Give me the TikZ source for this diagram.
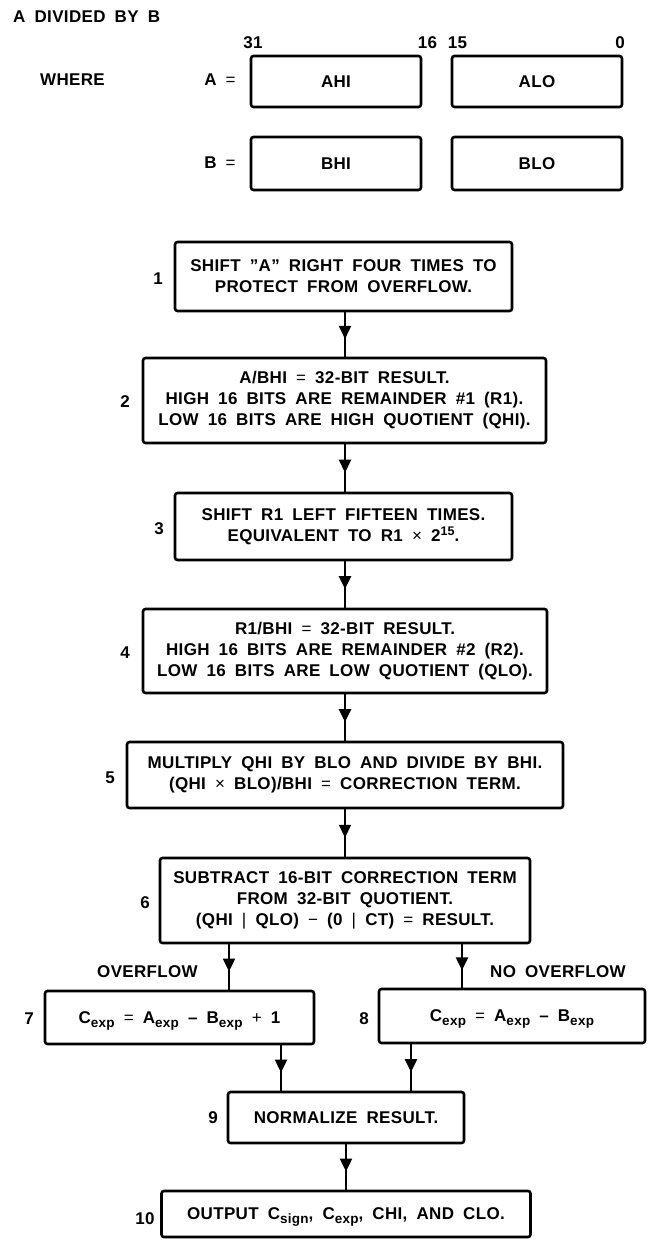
\documentclass[tikz,border=0pt]{standalone}
\usepackage{fontspec}
\setmainfont{Liberation Sans}[WordSpace=1.8, LetterSpace=2]
\usetikzlibrary{arrows.meta,decorations.markings}
\newcommand\myeq{{\mdseries =}}
\newcommand\mytimes{{\mdseries ×}}
\newcommand\mybar{{\mdseries |}}
\newcommand\mysub[1]{\raisebox{-4pt}{\fontsize{13.5}{13.5}\selectfont #1}}
\newcommand\mysup[1]{\raisebox{5.5pt}{\fontsize{12.5}{12.5}\selectfont #1}}
\tikzset{
  every node/.style={font=\bfseries\fontsize{17}{21}\selectfont, inner sep=0pt},
  box/.style={draw, line width=2.6pt, rounded corners=2.5pt, align=center},
  subbox/.style={box, text depth=0pt},
  flow/.style={line width=2.2pt, postaction={decorate},
    decoration={markings, mark=at position 0.6 with {\arrow{Triangle[width=12pt,length=13pt]}}}}
}
\begin{document}
\begin{tikzpicture}[x=1pt,y=-1pt]
\useasboundingbox (0,0) rectangle (648,1240);
% header
\node[anchor=west] (title) at (13,17) {A DIVIDED BY B};
\node[anchor=west] (where) at (40,80) {WHERE};
\node (aeq) at (220,80) {A \myeq};
\node (beq) at (220,163) {B \myeq};
\node (n31) at (253,43) {31};
\node (n16) at (427.5,43) {16};
\node (n15) at (457.5,43) {15};
\node (n0) at (620,43) {0};
\node[box, minimum width=170pt, minimum height=51pt] (ahi) at (336,81.5) {AHI};
\node[box, minimum width=170pt, minimum height=51pt] (alo) at (537,81.5) {ALO};
\node[box, minimum width=170pt, minimum height=53pt] (bhi) at (336,163.5) {BHI};
\node[box, minimum width=170pt, minimum height=53pt] (blo) at (537,163.5) {BLO};
% flow boxes
\node[box, minimum width=337pt, minimum height=69pt] (b1) at (343.5,276.5)
  {SHIFT ''A'' RIGHT FOUR TIMES TO\\PROTECT FROM OVERFLOW.};
\node[box, minimum width=403pt, minimum height=85pt] (b2) at (344.5,400.5)
  {A/BHI \myeq{} 32-BIT RESULT.\\HIGH 16 BITS ARE REMAINDER \#1 (R1).\\LOW 16 BITS ARE HIGH QUOTIENT (QHI).};
\node[box, minimum width=337pt, minimum height=67pt] (b3) at (343.5,526.5)
  {SHIFT R1 LEFT FIFTEEN TIMES.\\EQUIVALENT TO R1 \mytimes{} 2\mysup{15}.};
\node[box, minimum width=404pt, minimum height=84pt] (b4) at (345,651)
  {R1/BHI \myeq{} 32-BIT RESULT.\\HIGH 16 BITS ARE REMAINDER \#2 (R2).\\LOW 16 BITS ARE LOW QUOTIENT (QLO).};
\node[box, minimum width=436pt, minimum height=66pt] (b5) at (345,775)
  {MULTIPLY QHI BY BLO AND DIVIDE BY BHI.\\(QHI \mytimes{} BLO)/BHI \myeq{} CORRECTION TERM.};
\node[box, minimum width=370pt, minimum height=85pt] (b6) at (345,900.5)
  {SUBTRACT 16-BIT CORRECTION TERM\\FROM 32-BIT QUOTIENT.\\(QHI \mybar{} QLO) {\mdseries −} (0 \mybar{} CT) \myeq{} RESULT.};
\node[subbox, minimum width=269pt, minimum height=53pt] (b7) at (179.5,1017.5)
  {C\mysub{exp} \myeq{} A\mysub{exp} – B\mysub{exp} {\mdseries +} 1};
\node[subbox, minimum width=266pt, minimum height=54pt] (b8) at (512,1016)
  {C\mysub{exp} \myeq{} A\mysub{exp} – B\mysub{exp}};
\node[box, minimum width=236pt, minimum height=51pt] (b9) at (346,1117.5)
  {NORMALIZE RESULT.};
\node[subbox, minimum width=369pt, minimum height=46pt] (b10) at (346,1214)
  {OUTPUT C\mysub{sign}, C\mysub{exp}, CHI, AND CLO.};
% step numbers
\node (l1) at (158,279) {1};
\node (l2) at (125,402) {2};
\node (l3) at (159,529) {3};
\node (l4) at (125,653) {4};
\node (l5) at (110,778) {5};
\node (l6) at (145,903) {6};
\node (l7) at (29,1019) {7};
\node (l8) at (364,1019) {8};
\node (l9) at (213,1118) {9};
\node (l10) at (145,1219) {10};
\node (ovf) at (147.5,972) {OVERFLOW};
\node (novf) at (558,972) {NO OVERFLOW};
% connector columns
\coordinate (cm) at (345,0);
\coordinate (c9) at (346,0);
\coordinate (c7) at (229,0);
\coordinate (c8) at (462,0);
\coordinate (d7) at (281,0);
\coordinate (d8) at (411,0);
\draw[flow] (b1.south -| cm) -- (b2.north -| cm);
\draw[flow] (b2.south -| cm) -- (b3.north -| cm);
\draw[flow] (b3.south -| cm) -- (b4.north -| cm);
\draw[flow] (b4.south -| cm) -- (b5.north -| cm);
\draw[flow] (b5.south -| cm) -- (b6.north -| cm);
\draw[flow] (b6.south -| c7) -- (b7.north -| c7);
\draw[flow] (b6.south -| c8) -- (b8.north -| c8);
\draw[flow] (b7.south -| d7) -- (b9.north -| d7);
\draw[flow] (b8.south -| d8) -- (b9.north -| d8);
\draw[flow] (b9.south -| c9) -- (b10.north -| c9);
\end{tikzpicture}
\end{document}
